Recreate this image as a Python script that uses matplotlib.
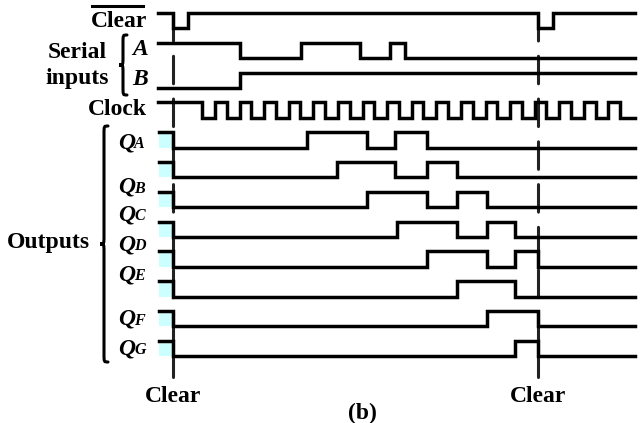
import matplotlib
matplotlib.use('Agg')
import matplotlib.pyplot as plt
from matplotlib.patches import Rectangle, PathPatch
from matplotlib.path import Path

# ---- signal data: edge times along the time axis ----
t_start, t_end = 158, 635
clear_times = [173, 188, 538, 553]          # Clear (active low), starts high
a_times = [240, 301, 360, 390, 405]         # serial input A, starts high
b_times = [240]                             # serial input B, starts low
clock_times = [202, 215, 227, 240, 251, 264, 276, 289, 300, 313, 325, 338,
               350, 363, 374, 387, 399, 412, 423, 436, 448, 461, 473, 486,
               497, 510, 522, 535, 546, 559, 571, 584, 596, 608, 620]
clear_marks = [173, 538]

out_start = 159
out_times = [
    [173, 307, 367, 395, 427],
    [173, 337, 395, 427, 457],
    [173, 367, 427, 457, 487],
    [173, 397, 457, 487, 515],
    [173, 427, 487, 515, 538],
    [173, 457, 515],
    [173, 487, 538],
    [173, 515, 538],
]
out_letters = ['A', 'B', 'C', 'D', 'E', 'F', 'G']
out_label_y = [148, 193, 220, 250, 280, 325, 354]

# ---- layout ----
row_top, row_pitch, swing = 13, 29.8, 15.5
lw = 2.5
serif = 'Liberation Serif'


def wave(start, times, first_high, row):
    hi = row_top + row * row_pitch
    lo = hi + swing
    lev = hi if first_high else lo
    xs, ys = [start], [lev]
    for t in times:
        xs.append(t); ys.append(lev)
        lev = lo if lev == hi else hi
        xs.append(t); ys.append(lev)
    xs.append(t_end); ys.append(lev)
    return xs, ys


def brace(ax, x, y0, y1, w, lw=2):
    # left-pointing curly brace between y0 and y1
    ym = (y0 + y1) / 2
    c = x + w * 0.5
    verts = [(x + w, y0),
             (c, y0), (c, y0), (c, y0 + w),
             (c, ym - w),
             (c, ym), (c, ym), (x, ym),
             (c, ym), (c, ym), (c, ym + w),
             (c, y1 - w),
             (c, y1), (c, y1), (x + w, y1)]
    C, L = Path.CURVE4, Path.LINETO
    codes = [Path.MOVETO, C, C, C, L, C, C, C, C, C, C, L, C, C, C]
    ax.add_patch(PathPatch(Path(verts, codes), fill=False, lw=lw,
                           edgecolor='black', capstyle='round'))


fig = plt.figure(figsize=(6.43, 4.23), dpi=100)
ax = fig.add_axes([0, 0, 1, 1])
ax.set_xlim(0, 643)
ax.set_ylim(423, 0)
ax.axis('off')

# inputs
for row, (times, first_high) in enumerate([(clear_times, True), (a_times, True),
                                           (b_times, False), (clock_times, True)]):
    xs, ys = wave(t_start, times, first_high, row)
    ax.plot(xs, ys, color='black', lw=lw, solid_joinstyle='miter', zorder=3)

# outputs with the light cyan marks before the clear edge
for i, times in enumerate(out_times):
    row = 4 + i
    hi = row_top + row * row_pitch
    ax.add_patch(Rectangle((out_start, hi + 2), clear_marks[0] - out_start - 1,
                           swing - 2, color='#ccffff', lw=0, zorder=1))
    xs, ys = wave(out_start, times, True, row)
    ax.plot(xs, ys, color='black', lw=lw, solid_joinstyle='miter', zorder=3)

# dashed clear markers
for xm in clear_marks:
    ax.plot([xm, xm], [13, 377], color='#222222', lw=2.2,
            linestyle=(0, (9, 5)), dash_capstyle='round', zorder=2)

fs = 17
bold = dict(family=serif, fontweight='bold', fontsize=fs, color='black')
t = ax.text(147, 27, 'Clear', ha='right', va='baseline', **bold)
ax.text(147, 115, 'Clock', ha='right', va='baseline', **bold)
ax.text(77, 58, 'Serial', ha='center', va='baseline', **bold)
ax.text(77, 84, 'inputs', ha='center', va='baseline', **bold)
ax.text(140, 55, 'A', ha='center', va='baseline', style='italic', **bold)
ax.text(140, 85, 'B', ha='center', va='baseline', style='italic', **bold)
ax.text(48, 248, 'Outputs', ha='center', va='baseline', **bold)
brace(ax, 119, 35, 95, 8, lw=2.2)
brace(ax, 100, 126, 362, 8, lw=2.2)

for letter, yb in zip(out_letters, out_label_y):
    ax.text(135, yb, 'Q', ha='right', va='baseline', style='italic', **bold)
    ax.text(134, yb, letter, ha='left', va='baseline', style='italic',
            family=serif, fontweight='bold', fontsize=11.5)

for xm in clear_marks:
    ax.text(xm, 402, 'Clear', ha='center', va='baseline', **bold)
ax.text(362, 419, '(b)', ha='center', va='baseline', **bold)

# overline on the top "Clear" label
fig.canvas.draw()
bb = t.get_window_extent().transformed(ax.transData.inverted())
ax.plot([bb.x0 + 1, bb.x1 - 4], [6, 6], color='black', lw=2.2)

fig.savefig('out.png', dpi=100)
